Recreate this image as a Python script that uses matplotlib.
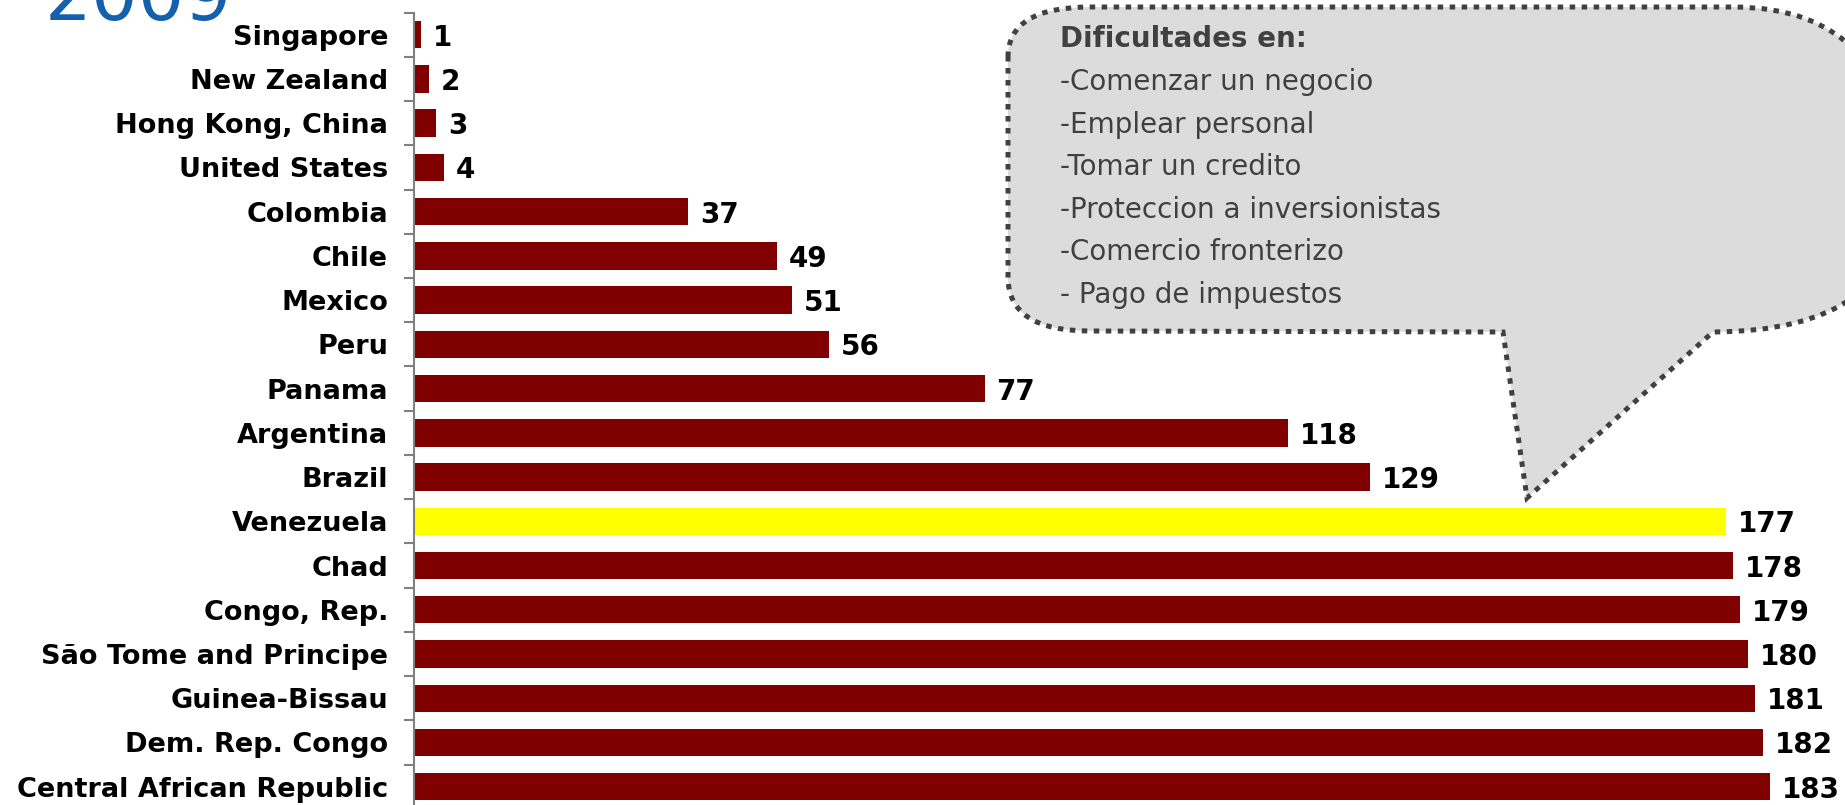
import numpy as np
import matplotlib
matplotlib.use('Agg')
import matplotlib.pyplot as plt
from matplotlib.path import Path
from matplotlib.patches import PathPatch

countries = ['Singapore', 'New Zealand', 'Hong Kong, China', 'United States',
             'Colombia', 'Chile', 'Mexico', 'Peru', 'Panama', 'Argentina',
             'Brazil', 'Venezuela', 'Chad', 'Congo, Rep.',
             'São Tome and Principe', 'Guinea-Bissau', 'Dem. Rep. Congo',
             'Central African Republic']
ranks = [1, 2, 3, 4, 37, 49, 51, 56, 77, 118, 129, 177, 178, 179, 180, 181, 182, 183]
highlight = 'Venezuela'

callout_title = 'Dificultades en:'
callout_items = ['-Comenzar un negocio', '-Emplear personal', '-Tomar un credito',
                 '-Proteccion a inversionistas', '-Comercio fronterizo',
                 '- Pago de impuestos']
year_label = '2009'

W, H = 1845, 805
fig = plt.figure(figsize=(W / 100, H / 100), dpi=100)


def px(x, y):
    # pixel coords (top-left origin) -> figure fraction
    return (x / W, 1 - y / H)


# axes placed so the category rows line up with the reference
top_px, bot_px, left_px = 12.6, 808.8, 414
ax = fig.add_axes([left_px / W, (H - bot_px) / H, 1 - left_px / W, (bot_px - top_px) / H])

ypos = np.arange(len(countries))
colors = ['#FFFF00' if c == highlight else '#800000' for c in countries]
ax.barh(ypos, ranks, height=0.62, color=colors, zorder=2)

for y, v in zip(ypos, ranks):
    ax.annotate(str(v), (v, y), xytext=(8.6, 0), textcoords='offset points',
                ha='left', va='center_baseline', fontsize=20, fontweight='bold',
                color='black')

ax.set_xlim(0, (W - left_px) / 7.41)
ax.set_ylim(len(countries) - 0.5, -0.5)
ax.set_yticks(ypos)
ax.set_yticklabels(countries, fontsize=19.5, fontweight='bold')
ax.tick_params(axis='y', which='major', length=0, pad=18.7)
ax.set_yticks(np.arange(len(countries) + 1) - 0.5, minor=True)
ax.tick_params(axis='y', which='minor', length=7, width=1.5, color='#808080')
ax.set_xticks([])
for s in ['top', 'right', 'bottom']:
    ax.spines[s].set_visible(False)
ax.spines['left'].set_color('#808080')
ax.spines['left'].set_linewidth(1.5)

# speech bubble callout
verts = [
    (1008, 57), (1008, 7), (1090, 7),
    (1733, 7), (1900, 7), (1900, 195),
    (1900, 331), (1713, 332),
    (1527, 498), (1503, 332),
    (1090, 331), (1008, 331), (1008, 277),
    (1008, 57),
]
codes = [Path.MOVETO, Path.CURVE3, Path.CURVE3,
         Path.LINETO, Path.CURVE3, Path.CURVE3,
         Path.CURVE3, Path.CURVE3,
         Path.LINETO, Path.LINETO,
         Path.LINETO, Path.CURVE3, Path.CURVE3,
         Path.CLOSEPOLY]
bubble = Path([px(x, y) for x, y in verts], codes)
patch = PathPatch(bubble, transform=fig.transFigure, facecolor='#DCDCDC',
                  edgecolor='#404040', linewidth=3.6, linestyle=(0, (1.1, 1.3)),
                  capstyle='butt', joinstyle='miter', zorder=5)
fig.add_artist(patch)

lines = [callout_title] + callout_items
for i, t in enumerate(lines):
    fig.text(*px(1060, 47.4 + 42.6 * i), t, fontsize=20, color='#404040',
             fontweight='bold' if i == 0 else 'normal',
             ha='left', va='baseline', zorder=6)

fig.text(*px(45, 20), year_label, fontsize=53, color='#1560AC',
         ha='left', va='baseline')

fig.savefig('out.png', dpi=100)
